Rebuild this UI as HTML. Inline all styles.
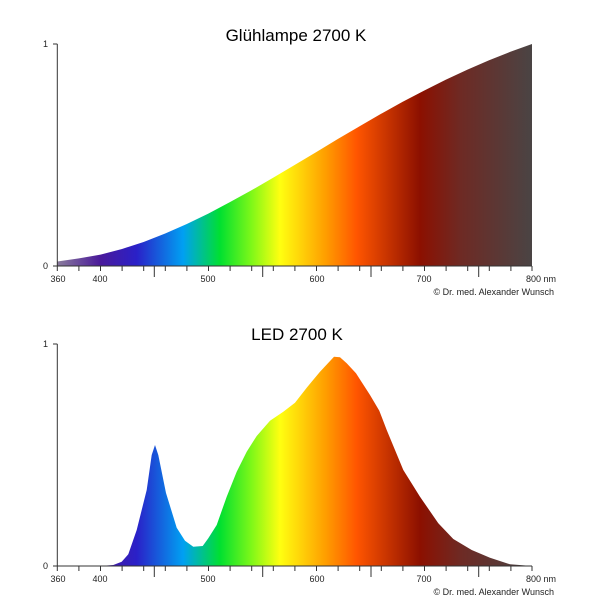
<!DOCTYPE html>
<html><head><meta charset="utf-8"><style>
html,body{margin:0;padding:0;background:#fff;}
svg{display:block;font-family:"Liberation Sans",sans-serif;}
</style></head><body>
<svg width="600" height="600" viewBox="0 0 600 600" xmlns="http://www.w3.org/2000/svg">
<defs>
<linearGradient id="spec" gradientUnits="userSpaceOnUse" x1="57.3" y1="0" x2="532" y2="0">
<stop offset="0" stop-color="#8a7c9c"/>
<stop offset="0.09" stop-color="#4a1a9a"/>
<stop offset="0.167" stop-color="#2a20c8"/>
<stop offset="0.265" stop-color="#00a0f2"/>
<stop offset="0.343" stop-color="#00e030"/>
<stop offset="0.41" stop-color="#80f818"/>
<stop offset="0.469" stop-color="#ffff10"/>
<stop offset="0.563" stop-color="#ffa000"/>
<stop offset="0.631" stop-color="#ff5500"/>
<stop offset="0.764" stop-color="#8c1000"/>
<stop offset="0.85" stop-color="#6e2a24"/>
<stop offset="1" stop-color="#4a4444"/>
</linearGradient>
</defs>
<g fill="#000" font-size="17" text-anchor="middle">
<text x="296" y="41">Glühlampe 2700 K</text>
<text x="297" y="340">LED 2700 K</text>
</g>
<path fill="url(#spec)" d="M57.3,266 L57.3,261.5 L78.9,258.4 L100.5,254.6 L122,249 L143.6,242 L165.2,233.5 L186.8,224 L208.3,213.6 L229.9,202.1 L251.5,190.3 L273.1,177.8 L294.6,165 L316.2,152.1 L337.8,139 L359.4,126.4 L380.9,113.9 L402.5,101.9 L424.1,90.6 L445.7,79.7 L467.2,69.8 L488.8,60.4 L510.4,51.8 L532,44 L532,266 Z"/>
<path fill="url(#spec)" d="M57.3,566 L100,566 L113.3,565 L121.7,561.7 L128.3,554.3 L136.7,530 L146.7,490 L151.7,455 L155,445 L158.3,455 L166,493 L176.7,527.7 L185,540.7 L193.3,546.7 L202.7,546 L208.3,538.3 L216.7,525 L226.7,496.7 L236.7,471.7 L246.7,451.7 L256.7,436 L270,420.7 L283.3,411.7 L295,402.7 L306.7,387.7 L320,371.7 L334,356.7 L340,357.3 L346.7,363.3 L356,373.3 L370,395 L379.3,410.7 L386.7,430 L403.3,470 L420,496.7 L438.3,523.3 L453.3,539 L471.7,550 L490,557.7 L510,564.3 L532,566 Z"/>
<g stroke="#333" stroke-width="1" fill="none">
<path d="M57.3,44 V266 H532 M53,44 H57.3 M53,266 H57.3"/>
<path d="M57.3,344 V566 H532 M53,344 H57.3 M53,566 H57.3"/>
<path d="M57.3,266v5 M78.9,266v5 M100.5,266v5 M122.1,266v5 M143.7,266v5 M165.3,266v5 M186.9,266v5 M208.5,266v5 M230.1,266v5 M251.7,266v5 M273.3,266v5 M294.9,266v5 M316.5,266v5 M338.1,266v5 M359.7,266v5 M381.3,266v5 M402.9,266v5 M424.5,266v5 M446.1,266v5 M467.7,266v5 M489.3,266v5 M510.9,266v5 M532,266v5 M154.3,266v11 M262.7,266v11 M371,266v11 M478.7,266v11"/>
<path d="M57.3,566v5 M78.9,566v5 M100.5,566v5 M122.1,566v5 M143.7,566v5 M165.3,566v5 M186.9,566v5 M208.5,566v5 M230.1,566v5 M251.7,566v5 M273.3,566v5 M294.9,566v5 M316.5,566v5 M338.1,566v5 M359.7,566v5 M381.3,566v5 M402.9,566v5 M424.5,566v5 M446.1,566v5 M467.7,566v5 M489.3,566v5 M510.9,566v5 M532,566v5 M154.3,566v11 M262.7,566v11 M371,566v11 M478.7,566v11"/>
</g>
<g fill="#222" font-size="9">
<text x="48" y="47" text-anchor="end">1</text>
<text x="48" y="269" text-anchor="end">0</text>
<text x="48" y="347" text-anchor="end">1</text>
<text x="48" y="569" text-anchor="end">0</text>
<g text-anchor="middle">
<text x="58" y="282">360</text><text x="100" y="282">400</text><text x="208" y="282">500</text><text x="317" y="282">600</text><text x="424" y="282">700</text>
<text x="58" y="582">360</text><text x="100" y="582">400</text><text x="208" y="582">500</text><text x="317" y="582">600</text><text x="424" y="582">700</text>
</g>
<text x="526" y="282">800 nm</text>
<text x="526" y="582">800 nm</text>
<text x="554" y="295" text-anchor="end">© Dr. med. Alexander Wunsch</text>
<text x="554" y="595" text-anchor="end">© Dr. med. Alexander Wunsch</text>
</g>
</svg>
</body></html>
